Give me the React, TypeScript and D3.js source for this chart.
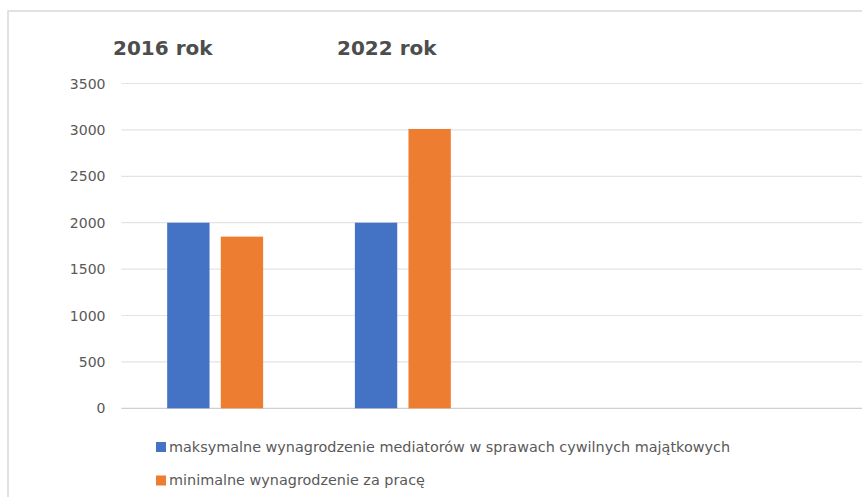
import React from "react";
import * as d3 from "d3";

const categories = ["2016", "2022", "c3", "c4"];
const seriesNames = [
  "maksymalne wynagrodzenie mediatorów w sprawach cywilnych majątkowych",
  "minimalne wynagrodzenie za pracę",
];
const maxMediator = [2000, 2000, null, null];
const minWage = [1850, 3010, null, null];
const seriesColors = ["#4472C4", "#ED7D31"];
const yTicks = [0, 500, 1000, 1500, 2000, 2500, 3000, 3500];
const titles = ["2016 rok", "2022 rok"];

const W = 862;
const H = 497;

export default function App() {
  const plotLeft = 121.3;
  const step = 187.7;
  const x0 = d3
    .scaleBand<string>()
    .domain(categories)
    .range([plotLeft, plotLeft + step * categories.length])
    .padding(0);
  const x1 = d3
    .scaleBand<number>()
    .domain([0, 1])
    .range([0, x0.bandwidth()])
    .paddingInner(0.21)
    .paddingOuter(0.856);
  const y = d3.scaleLinear().domain([0, 3500]).range([408.3, 83.5]);
  const series = [maxMediator, minWage];
  const titleX = [113, 337];

  return (
    <svg
      width={W}
      height={H}
      style={{ position: "absolute", left: 0, top: 0, background: "#fff" }}
      fontFamily="'DejaVu Sans', sans-serif"
    >
      <rect x={8} y={11} width={W + 20} height={H + 20} fill="#fff" stroke="#d9d9d9" strokeWidth={1.5} />
      {yTicks.map((t) => (
        <g key={t}>
          <line
            x1={plotLeft}
            x2={W + 10}
            y1={y(t)}
            y2={y(t)}
            stroke={t === 0 ? "#d0d0d0" : "#e3e3e3"}
            strokeWidth={1.2}
          />
          <text x={105.5} y={y(t)} dy="0.36em" textAnchor="end" fontSize={14} fill="#595959">
            {t}
          </text>
        </g>
      ))}
      {series.map((vals, si) =>
        categories.map((c, ci) => {
          const v = vals[ci];
          if (v == null) return null;
          return (
            <rect
              key={`${si}-${ci}`}
              x={(x0(c) as number) + (x1(si) as number)}
              y={y(v)}
              width={x1.bandwidth()}
              height={y(0) - y(v)}
              fill={seriesColors[si]}
            />
          );
        })
      )}
      {titles.map((t, i) => (
        <text key={t} x={titleX[i]} y={55} fontSize={20} fontWeight="bold" fill="#4d4d4d">
          {t}
        </text>
      ))}
      {seriesNames.map((n, i) => (
        <g key={n} transform={`translate(156, ${442 + i * 33.5})`}>
          <rect x={0} y={0} width={10} height={10} fill={seriesColors[i]} />
          <text x={13} y={9.5} fontSize={14.4} fill="#595959">
            {n}
          </text>
        </g>
      ))}
    </svg>
  );
}
